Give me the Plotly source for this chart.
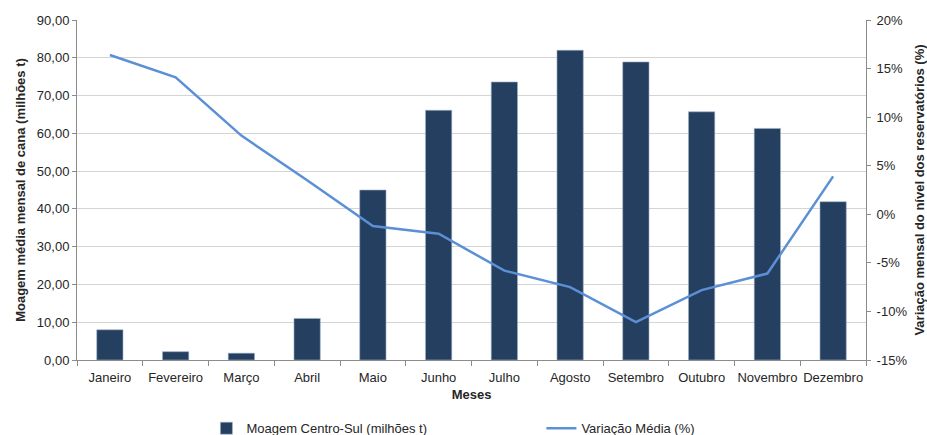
import plotly.graph_objects as go

meses = ["Janeiro", "Fevereiro", "Março", "Abril", "Maio", "Junho", "Julho",
         "Agosto", "Setembro", "Outubro", "Novembro", "Dezembro"]
moagem = [8.0, 2.2, 1.8, 11.0, 45.0, 66.1, 73.6, 82.0, 78.9, 65.7, 61.3, 41.9]
variacao = [16.4, 14.1, 8.1, 3.5, -1.2, -2.0, -5.8, -7.5, -11.1, -7.8, -6.1, 3.9]

left_ticks = [0, 10, 20, 30, 40, 50, 60, 70, 80, 90]
left_labels = ["0,00", "10,00", "20,00", "30,00", "40,00", "50,00", "60,00", "70,00", "80,00", "90,00"]
right_ticks = [-15, -10, -5, 0, 5, 10, 15, 20]
right_labels = ["-15%", "-10%", "-5%", "0%", "5%", "10%", "15%", "20%"]

FONT = "Liberation Sans, Arial, sans-serif"
TXT = "#262626"
AX = "#8c8c8c"

fig = go.Figure()
fig.add_trace(go.Bar(
    x=meses, y=moagem, name="Moagem Centro-Sul (milhões t)",
    marker=dict(color="#253F60", line=dict(color="#9fb3c9", width=0.6)),
    width=0.4, yaxis="y"))
fig.add_trace(go.Scatter(
    x=meses, y=variacao, name="Variação Média (%)", mode="lines",
    line=dict(color="#5B8FD6", width=2.5), yaxis="y2"))

fig.update_layout(
    width=927, height=435,
    margin=dict(l=77, r=61, t=20, b=75, autoexpand=False),
    paper_bgcolor="white", plot_bgcolor="white",
    font=dict(family=FONT, size=13, color=TXT),
    showlegend=True,
    legend=dict(orientation="h", x=0.164, xanchor="left",
                yref="container", y=0.05, yanchor="top",
                entrywidth=290, entrywidthmode="pixels",
                font=dict(size=13, color=TXT), bgcolor="rgba(0,0,0,0)"),
    xaxis=dict(type="category", tickson="boundaries", ticks="outside", ticklen=5,
               tickangle=0, automargin=False, ticklabelstandoff=5,
               tickcolor=AX, showline=True, linecolor=AX, linewidth=1,
               showgrid=False, range=[-0.5, 11.5],
               title=dict(text="<b>Meses</b>", font=dict(size=13), standoff=6)),
    yaxis=dict(range=[0, 90], tickvals=left_ticks, ticktext=left_labels,
               ticks="outside", ticklen=4, tickcolor=AX, showline=True,
               linecolor=AX, linewidth=1, showgrid=True, gridcolor="#d4d4d4",
               gridwidth=1, zeroline=False, automargin=False,
               title=dict(text="<b>Moagem média mensal de cana (milhões t)</b>",
                          font=dict(size=13), standoff=8)),
    yaxis2=dict(range=[-15, 20], tickvals=right_ticks, ticktext=right_labels,
                overlaying="y", side="right", ticks="outside", ticklen=4,
                tickcolor=AX, showline=True, linecolor=AX, linewidth=1,
                showgrid=False, zeroline=False, automargin=False,
                ticklabelstandoff=3,
                title=dict(text="<b>Variação mensal do nível dos reservatórios (%)</b>",
                           font=dict(size=13), standoff=12)),
)

fig.write_html("out.html")
